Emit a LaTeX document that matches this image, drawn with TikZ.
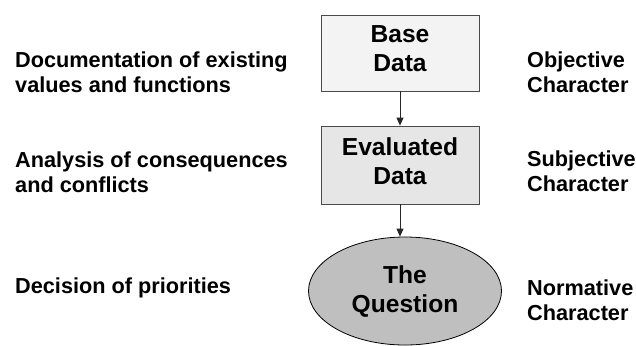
\documentclass[tikz,border=0pt]{standalone}
\usepackage{fontspec}
\setmainfont{Liberation Sans}
\usetikzlibrary{arrows.meta,shapes.geometric}
\definecolor{boxline}{HTML}{4A4A4A}
\definecolor{basefill}{HTML}{F3F3F3}
\definecolor{evalfill}{HTML}{E6E6E6}
\definecolor{questfill}{HTML}{BFBFBF}
\begin{document}
\begin{tikzpicture}[x=1bp,y=-1bp,
  sidetext/.style={anchor=base west,inner sep=0pt,align=left,
    font=\bfseries\fontsize{21.7bp}{25bp}\selectfont},
  datastep/.style={draw=boxline,line width=0.8bp,minimum width=158bp,
    align=center,inner sep=0pt,text depth=8bp,
    font=\bfseries\fontsize{24.6bp}{29bp}\selectfont},
  flow/.style={draw=black!85,line width=0.8bp,-{Triangle[width=7bp,length=8bp]}}]
  \useasboundingbox (0,0) rectangle (636,345);
  % central chain
  \node[datastep,fill=basefill,minimum height=76bp] (base) at (400,53) {Base\\Data};
  \node[datastep,fill=evalfill,minimum height=78bp] (eval) at (400,165) {Evaluated\\Data};
  \node[ellipse,draw=black,line width=0.8bp,fill=questfill,inner sep=0pt,
    minimum width=193bp,minimum height=108bp,align=center,
    font=\bfseries\fontsize{24.6bp}{29bp}\selectfont] (quest) at (405,291) {The\\Question};
  \draw[flow] (base.south -| 400,0) -- (eval.north -| 400,0);
  \draw[flow] (eval.south -| 400,0) -- (quest.north -| 400,0);
  % activities on the left (anchored at the last line's baseline)
  \node[sidetext] (doc) at (15,92) {Documentation of existing\\values and functions};
  \node[sidetext] (ana) at (15,192) {Analysis of consequences\\and conflicts};
  \node[sidetext] (dec) at (15,293) {Decision of priorities};
  % character on the right
  \node[sidetext] (obj) at (527,92) {Objective\\Character};
  \node[sidetext] (sub) at (527,191) {Subjective\\Character};
  \node[sidetext] (nor) at (527,320) {Normative\\Character};
\end{tikzpicture}
\end{document}
